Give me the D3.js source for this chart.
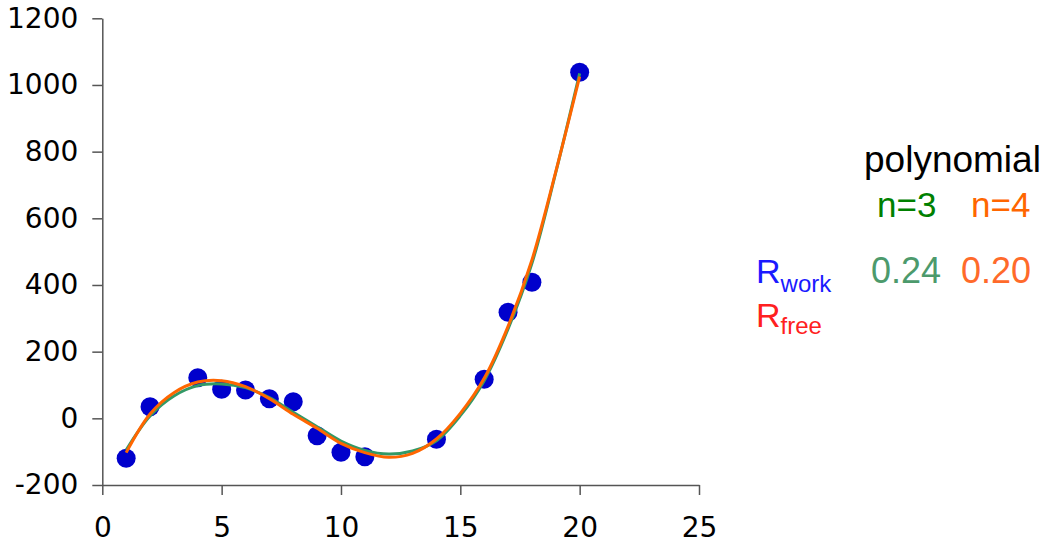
<!DOCTYPE html>
<html>
<head>
<meta charset="utf-8">
<script src="https://cdn.jsdelivr.net/npm/d3@7"></script>
<style>
  body { margin: 0; background: #fff; }
  svg { display: block; }
  .axis text { font-family: Verdana, "DejaVu Sans", sans-serif; font-size: 28px; fill: #000; }
  .axis path, .axis line { stroke: #555; stroke-width: 1.5; }
  .note { font-family: "Liberation Sans", Arial, sans-serif; }
</style>
</head>
<body>
<div id="chart"></div>
<script>
// observed data
var obsX = [1, 2, 4, 5, 6, 7, 8, 9, 10, 11, 14, 16, 17, 18, 20];
var obsY = [-120, 35, 122, 87, 85, 59, 50, -52, -102, -115, -63, 117, 318, 408, 1038];

// fitted curves
var fitX = [1, 2, 3, 4, 5, 6, 7, 8, 9, 10, 11, 12, 13, 14, 15, 16, 17, 18, 19, 20];
var fitN3 = [-95, 7, 67, 98, 103, 92, 62, 18, -25, -68, -96, -107, -98, -67, 8, 113, 268, 465, 738, 1035];
var fitN4 = [-103, 13, 77, 109, 113, 95, 59, 12, -30, -75, -103, -117, -105, -62, 15, 120, 276, 475, 740, 1025];

var xTicks = [0, 5, 10, 15, 20, 25];
var yTicks = [-200, 0, 200, 400, 600, 800, 1000, 1200];

var legendHead = "polynomial";
var legendOrders = ["n=3", "n=4"];
var rWork = ["0.24", "0.20"];

var width = 1049, height = 545;

var svg = d3.select("#chart").append("svg")
  .attr("width", width).attr("height", height);

var x = d3.scaleLinear().domain([0, 25]).range([102.3, 699]);
var y = d3.scaleLinear().domain([-200, 1200]).range([485, 18.3]);

var plain = function(d) { return String(d); };

svg.append("g")
  .attr("class", "axis")
  .attr("transform", "translate(0," + y(-200) + ")")
  .call(d3.axisBottom(x).tickValues(xTicks).tickFormat(plain)
    .tickSize(10).tickSizeOuter(0).tickPadding(22));

svg.append("g")
  .attr("class", "axis")
  .attr("transform", "translate(" + x(0) + ",0)")
  .call(d3.axisLeft(y).tickValues(yTicks).tickFormat(plain)
    .tickSize(10).tickSizeOuter(0).tickPadding(14));

// points
svg.append("g").selectAll("circle")
  .data(obsX)
  .enter().append("circle")
  .attr("cx", function(d) { return x(d); })
  .attr("cy", function(d, i) { return y(obsY[i]); })
  .attr("r", 9.5)
  .attr("fill", "#0000cc");

var line = d3.line()
  .x(function(d) { return x(d[0]); })
  .y(function(d) { return y(d[1]); })
  .curve(d3.curveCatmullRom.alpha(0.5));

svg.append("path")
  .datum(d3.zip(fitX, fitN3))
  .attr("d", line)
  .attr("fill", "none")
  .attr("stroke", "#339966")
  .attr("stroke-width", 3);

svg.append("path")
  .datum(d3.zip(fitX, fitN4))
  .attr("d", line)
  .attr("fill", "none")
  .attr("stroke", "#ff6600")
  .attr("stroke-width", 3);

// annotations
var note = svg.append("g").attr("class", "note");

note.append("text").attr("x", 864).attr("y", 172)
  .attr("font-size", 37).attr("fill", "#000").text(legendHead);

note.append("text").attr("x", 877).attr("y", 217)
  .attr("font-size", 35).attr("fill", "#008000").text(legendOrders[0]);
note.append("text").attr("x", 971).attr("y", 217)
  .attr("font-size", 35).attr("fill", "#ff6600").text(legendOrders[1]);

note.append("text").attr("x", 871).attr("y", 283)
  .attr("font-size", 36).attr("fill", "#4c9a6c").text(rWork[0]);
note.append("text").attr("x", 961).attr("y", 283)
  .attr("font-size", 36).attr("fill", "#ff6a2a").text(rWork[1]);

var rw = note.append("text").attr("x", 756).attr("y", 283).attr("fill", "#1a1aff");
rw.append("tspan").attr("font-size", 34).text("R");
rw.append("tspan").attr("font-size", 24).attr("dy", 9).text("work");

var rf = note.append("text").attr("x", 756).attr("y", 327).attr("fill", "#ff2020");
rf.append("tspan").attr("font-size", 34).text("R");
rf.append("tspan").attr("font-size", 24).attr("dy", 7).text("free");
</script>
</body>
</html>
